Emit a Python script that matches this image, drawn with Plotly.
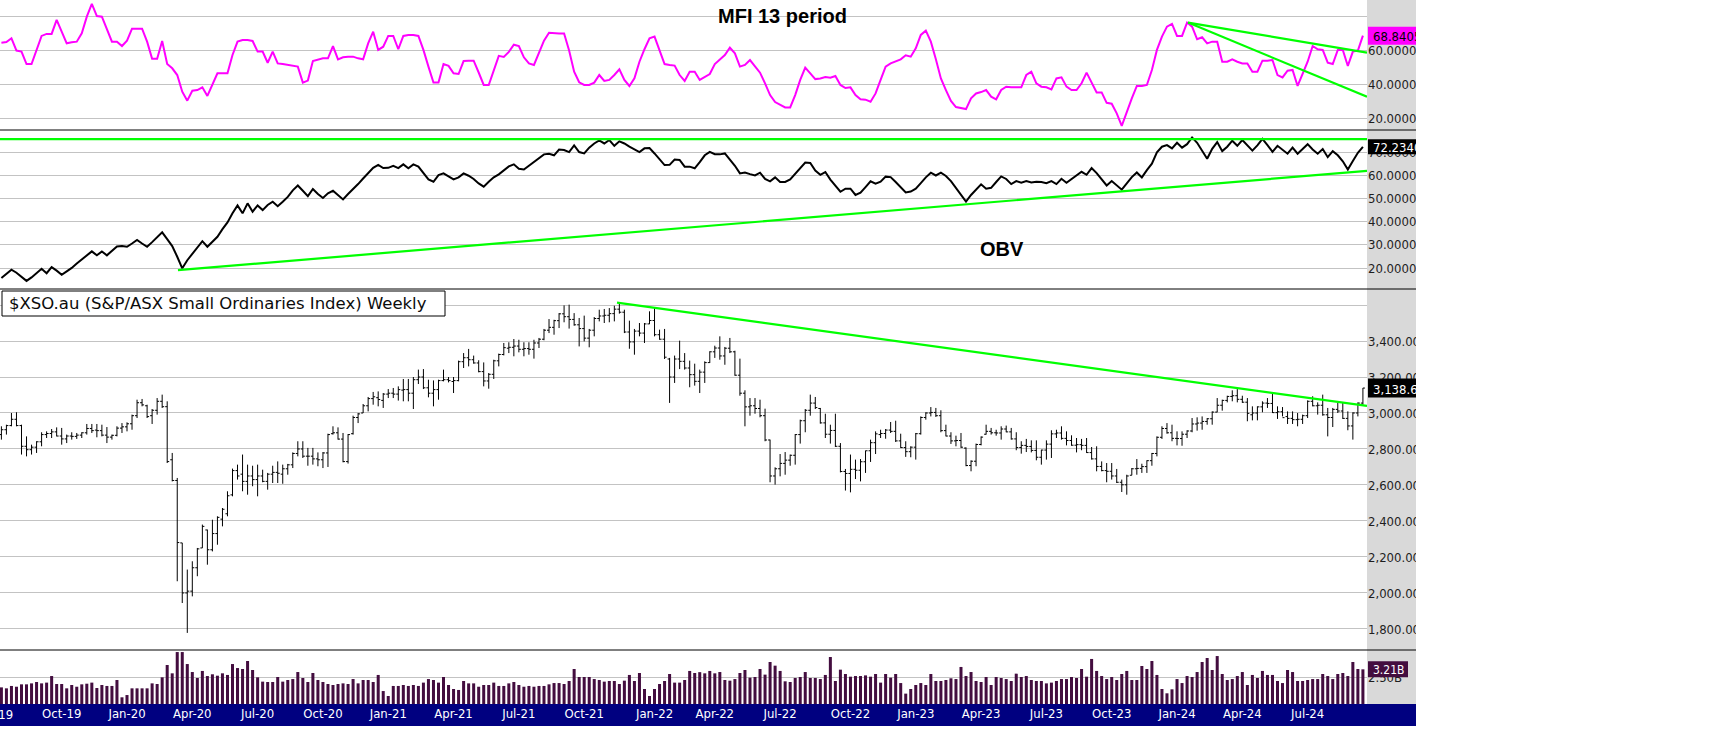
import pandas as pd
import plotly.graph_objects as go

# ---------------- data ----------------
DATES = pd.date_range("2019-07-12", periods=272, freq="W-FRI")

OPEN = [2880,2907,2930,2965,2930,2815,2796,2810,2840,2880,
        2886,2895,2872,2856,2872,2870,2877,2890,2914,2905,
        2902,2877,2866,2876,2916,2923,2940,2985,3057,3040,
        2985,3015,3065,3035,2740,2625,2278,2000,2010,2140,
        2250,2350,2240,2330,2410,2440,2545,2680,2660,2620,
        2650,2630,2650,2620,2660,2670,2660,2690,2712,2775,
        2800,2760,2760,2745,2740,2778,2885,2890,2855,2730,
        2885,2975,3000,3040,3080,3085,3070,3105,3110,3105,
        3127,3130,3110,3185,3200,3140,3110,3130,3180,3185,
        3175,3180,3285,3307,3296,3278,3230,3178,3215,3290,
        3325,3360,3365,3372,3354,3358,3354,3389,3410,3460,
        3476,3513,3551,3535,3520,3490,3469,3416,3460,3525,
        3539,3543,3552,3577,3560,3450,3395,3455,3444,3495,
        3514,3435,3410,3300,3200,3300,3287,3250,3213,3176,
        3227,3280,3340,3361,3317,3360,3340,3210,3110,3034,
        3040,3025,2985,2850,2650,2690,2720,2738,2765,2880,
        2957,3015,3055,3025,2945,2882,2903,2815,2675,2664,
        2687,2682,2729,2790,2835,2880,2886,2905,2898,2845,
        2808,2785,2810,2885,2975,3000,3003,2985,2902,2872,
        2845,2847,2805,2708,2732,2825,2882,2898,2890,2889,
        2911,2895,2856,2808,2820,2814,2792,2754,2794,2827,
        2884,2889,2859,2847,2821,2824,2820,2780,2745,2703,
        2680,2676,2650,2615,2601,2654,2690,2692,2702,2735,
        2775,2865,2914,2890,2859,2858,2882,2900,2939,2944,
        2953,2968,3005,3043,3070,3092,3096,3076,3060,2990,
        3000,3034,3055,3053,3002,3007,2980,2970,2963,2965,
        2985,3065,3040,3043,2990,2975,3020,3011,2970,2928,
        3000,3055]

HIGH = [2926,2935,3000,3004,2935,2870,2824,2843,2893,2898,
        2911,2920,2917,2880,2893,2889,2893,2939,2939,2939,
        2935,2922,2880,2926,2944,2948,2991,3074,3078,3046,
        3022,3083,3102,3065,2778,2639,2278,2130,2176,2250,
        2380,2352,2407,2426,2472,2565,2691,2713,2769,2713,
        2707,2713,2685,2667,2707,2731,2713,2717,2781,2843,
        2843,2806,2806,2781,2783,2885,2926,2920,2889,2883,
        2985,3000,3050,3089,3117,3120,3111,3133,3139,3148,
        3189,3189,3200,3241,3244,3185,3181,3185,3241,3200,
        3200,3291,3333,3356,3319,3293,3281,3222,3296,3330,
        3389,3393,3411,3407,3393,3393,3407,3417,3467,3522,
        3518,3555,3598,3602,3555,3528,3541,3467,3533,3574,
        3578,3583,3596,3610,3574,3513,3467,3500,3500,3565,
        3585,3463,3467,3306,3319,3402,3333,3291,3274,3241,
        3287,3343,3374,3426,3367,3417,3346,3302,3126,3083,
        3083,3074,3024,2852,2698,2772,2783,2769,2883,2963,
        3022,3102,3089,3028,2996,2935,2996,2833,2689,2769,
        2741,2744,2791,2852,2898,2907,2911,2950,2957,2885,
        2843,2815,2889,2981,3004,3033,3028,3015,2935,2893,
        2874,2889,2809,2737,2830,2870,2935,2917,2907,2926,
        2930,2917,2893,2843,2856,2848,2848,2796,2848,2904,
        2907,2926,2898,2876,2861,2856,2861,2811,2815,2731,
        2722,2722,2689,2630,2657,2694,2744,2718,2737,2778,
        2870,2926,2944,2935,2898,2898,2904,2972,2976,2981,
        2972,3009,3083,3074,3096,3126,3133,3096,3083,3037,
        3037,3065,3083,3107,3037,3033,3009,3009,3000,2991,
        3070,3093,3059,3102,3028,3028,3056,3056,3009,3004,
        3059,3139]

LOW = [2852,2880,2926,2926,2769,2759,2769,2778,2815,2861,
       2861,2870,2824,2833,2852,2856,2861,2880,2889,2865,
       2870,2833,2852,2870,2889,2898,2907,2972,3037,2972,
       2939,2991,3028,2722,2620,2065,1944,1778,1981,2093,
       2250,2157,2231,2268,2370,2426,2537,2630,2565,2546,
       2593,2537,2615,2574,2611,2611,2607,2657,2694,2759,
       2750,2707,2713,2704,2694,2700,2880,2852,2726,2719,
       2880,2944,3000,3009,3046,3037,3028,3083,3083,3069,
       3065,3065,3022,3161,3133,3087,3037,3074,3176,3170,
       3111,3176,3250,3259,3274,3226,3148,3135,3189,3259,
       3320,3333,3315,3337,3315,3324,3302,3361,3404,3444,
       3435,3472,3504,3469,3485,3370,3398,3365,3426,3509,
       3500,3504,3509,3552,3444,3357,3324,3426,3389,3494,
       3426,3407,3300,3056,3167,3244,3241,3143,3152,3111,
       3167,3278,3306,3296,3268,3333,3207,3096,2926,2985,
       2996,2976,2843,2615,2602,2648,2657,2707,2713,2830,
       2893,2985,3022,2941,2861,2830,2811,2670,2569,2559,
       2633,2620,2667,2728,2772,2861,2857,2889,2839,2806,
       2756,2754,2741,2880,2963,2981,2978,2893,2870,2828,
       2815,2806,2704,2676,2704,2820,2880,2880,2874,2852,
       2893,2852,2793,2774,2783,2781,2737,2713,2741,2750,
       2861,2852,2820,2818,2781,2793,2778,2741,2676,2676,
       2615,2630,2611,2561,2546,2654,2657,2667,2667,2707,
       2759,2856,2885,2843,2820,2818,2861,2893,2902,2907,
       2935,2935,3004,3013,3059,3065,3059,3056,2954,2959,
       2959,3004,3028,3000,2967,2981,2939,2939,2926,2939,
       2972,3037,2991,2985,2870,2922,3000,2967,2904,2852,
       2981,3046]

CLOSE = [2907,2930,2965,2930,2815,2796,2810,2840,2880,2886,
         2895,2872,2856,2872,2870,2877,2890,2914,2902,2902,
         2877,2866,2876,2916,2923,2940,2985,3057,3045,2980,
         3015,3065,3035,2730,2625,2280,2000,2010,2140,2245,
         2370,2240,2330,2420,2465,2540,2680,2650,2620,2650,
         2630,2650,2620,2660,2670,2665,2690,2712,2775,2800,
         2760,2760,2745,2740,2778,2880,2890,2855,2730,2880,
         2975,2995,3040,3080,3090,3075,3105,3110,3105,3130,
         3130,3110,3185,3200,3140,3110,3130,3180,3185,3180,
         3180,3285,3307,3296,3278,3230,3178,3215,3290,3325,
         3363,3365,3372,3354,3358,3354,3389,3410,3460,3476,
         3513,3551,3535,3520,3490,3469,3416,3460,3525,3539,
         3543,3552,3577,3560,3450,3395,3455,3444,3495,3514,
         3435,3410,3310,3200,3300,3287,3250,3213,3176,3227,
         3280,3340,3361,3317,3360,3340,3210,3110,3034,3040,
         3025,2985,2850,2650,2690,2720,2738,2765,2880,2957,
         3015,3055,3030,2945,2882,2903,2815,2675,2664,2687,
         2682,2729,2790,2835,2884,2886,2905,2898,2845,2808,
         2785,2810,2885,2975,3000,3003,2985,2902,2872,2845,
         2847,2810,2708,2732,2825,2866,2898,2890,2889,2911,
         2895,2856,2808,2820,2814,2792,2754,2794,2827,2884,
         2889,2859,2847,2821,2824,2820,2780,2745,2703,2680,
         2676,2650,2615,2601,2650,2690,2692,2702,2735,2775,
         2865,2914,2890,2859,2858,2882,2900,2939,2944,2953,
         2968,3005,3043,3070,3092,3096,3076,3060,2998,3000,
         3034,3055,3053,3002,3007,2974,2970,2963,2965,2985,
         3065,3040,3043,2990,2975,3020,3011,2970,2928,3000,
         3055,3138.6]

VOLUME_B = [1.54,1.45,1.67,1.60,1.82,1.82,1.91,2.04,1.91,1.98,
            2.59,1.85,1.85,1.45,1.76,1.60,1.82,1.88,1.98,1.48,
            1.76,1.67,1.67,2.22,0.62,0.83,1.45,1.45,1.45,1.45,
            1.91,1.85,2.47,3.61,2.84,4.81,4.81,3.70,2.96,2.41,
            3.06,2.59,2.75,2.62,2.84,2.69,3.70,3.33,3.24,3.98,
            3.15,2.47,2.07,2.04,2.04,2.50,2.07,2.22,2.31,2.96,
            2.41,2.04,2.87,2.22,2.04,1.85,1.76,1.85,1.91,1.85,
            2.31,1.91,2.22,2.22,2.04,2.69,1.20,0.74,1.67,1.67,
            1.76,1.67,1.76,1.67,1.98,2.31,2.22,1.98,2.50,1.76,
            1.39,1.30,2.13,1.91,1.91,1.60,1.76,1.76,1.98,1.67,
            1.67,1.91,2.04,1.76,1.60,1.67,1.60,1.67,1.67,1.82,
            1.94,1.94,1.85,2.13,3.24,2.50,2.50,2.50,2.31,2.22,
            2.07,2.13,2.13,1.85,2.16,2.69,2.13,2.87,1.39,0.74,
            1.39,1.85,2.13,2.78,1.98,1.98,2.22,3.06,2.87,2.95,
            2.84,3.06,2.84,2.96,2.22,2.16,2.31,2.87,3.15,2.44,
            2.50,3.24,2.72,3.89,3.55,3.06,2.10,2.04,2.41,2.50,
            2.96,2.41,2.41,2.31,2.69,4.35,2.13,3.18,2.78,2.53,
            2.59,2.59,2.65,2.53,2.78,1.98,2.78,2.44,2.78,1.94,
            0.96,1.39,1.76,1.94,1.76,2.78,2.13,2.13,2.22,2.38,
            2.31,3.43,2.59,2.96,2.13,2.04,2.50,1.76,2.50,2.41,
            2.31,2.13,2.81,2.50,2.59,2.22,2.13,2.13,1.91,1.98,
            2.13,2.31,2.31,2.50,2.41,3.24,2.53,4.17,3.06,2.59,
            2.31,2.50,2.22,2.78,3.06,2.22,2.22,3.52,3.24,3.98,
            2.69,1.39,0.99,1.36,2.31,1.94,2.59,2.50,2.96,3.89,
            4.26,3.15,4.44,2.78,2.22,2.31,2.59,2.96,1.76,2.69,
            2.41,3.06,2.69,2.69,2.13,1.94,3.15,2.96,2.13,2.13,
            2.22,2.31,2.31,2.78,2.59,2.31,2.78,2.87,2.59,3.89,
            3.24,3.21]

MFI = [64.7,65.1,67.3,60.0,59.4,52.0,52.0,60.8,68.7,69.9,
       69.9,78.2,71.2,64.3,64.9,65.3,70.2,80.1,87.7,80.5,
       80.1,72.6,65.3,65.3,62.7,65.9,73.0,73.0,73.0,65.3,
       55.2,55.2,65.7,52.0,49.5,45.5,35.6,30.3,36.2,36.6,
       38.2,33.1,39.6,46.5,46.5,46.5,57.4,65.3,66.3,66.3,
       65.7,59.4,59.4,52.8,59.4,52.4,52.0,51.5,50.9,50.5,
       41.0,42.2,53.8,54.8,55.4,55.4,62.7,54.8,56.0,56.4,
       56.4,55.4,54.8,64.3,71.2,60.4,62.3,68.7,68.7,60.8,
       68.7,69.3,69.3,68.7,60.4,50.5,41.0,41.0,52.0,50.9,
       46.5,46.1,53.8,54.0,54.0,47.0,39.6,39.6,48.5,56.9,
       56.2,59.2,63.5,62.7,56.0,52.4,51.5,58.4,65.9,70.6,
       70.2,70.2,70.2,60.0,47.5,41.2,39.6,39.6,41.0,45.5,
       42.0,42.6,45.5,48.9,42.6,39.0,43.5,53.4,60.8,67.3,
       68.3,60.4,52.0,51.5,51.1,45.5,42.0,47.5,47.5,42.6,
       44.1,46.1,52.0,55.0,57.4,61.7,58.4,50.5,51.5,54.4,
       50.5,46.9,40.6,33.6,29.5,27.7,26.3,26.3,33.6,42.6,
       49.9,46.5,43.1,43.5,44.3,43.9,44.9,39.6,37.8,38.2,
       33.6,31.1,30.9,29.7,34.6,42.6,50.5,52.4,53.8,54.8,
       57.2,56.4,61.3,69.3,71.8,65.3,54.8,43.5,36.6,30.1,
       26.5,26.1,25.3,31.7,34.6,35.4,36.6,32.7,31.1,36.6,
       38.6,38.2,38.2,38.2,45.5,47.5,40.6,38.6,38.2,37.0,
       43.5,44.1,38.6,36.6,36.6,40.6,46.9,40.6,35.2,35.2,
       29.0,28.5,22.8,15.3,23.8,31.7,39.0,39.0,39.6,48.5,
       60.4,68.3,74.2,75.8,68.7,68.7,76.6,74.2,66.7,67.9,
       64.3,65.3,65.3,53.4,53.4,54.8,53.4,52.4,52.4,47.5,
       47.5,54.0,54.0,54.4,45.5,44.1,48.1,48.5,39.0,46.5,
       53.4,62.7,60.8,60.4,52.8,52.0,60.4,60.4,50.9,59.4,
       60.0,68.8405]

OBV = [15.7,17.4,19.3,18.0,16.3,14.5,16.0,18.0,19.7,17.8,
       20.4,18.9,17.1,18.6,20.1,22.0,23.7,25.5,27.2,25.5,
       27.2,25.5,27.5,29.3,29.5,29.2,30.6,32.1,30.6,29.2,
       31.2,33.4,35.4,32.5,29.5,24.9,19.9,23.4,26.3,29.2,
       31.6,29.2,31.4,33.5,36.8,39.7,43.6,47.0,43.6,47.9,
       44.3,47.0,45.0,47.2,48.6,46.7,48.6,50.7,53.5,55.6,
       53.3,51.0,54.1,51.9,50.2,52.2,53.3,51.3,49.6,51.9,
       53.9,56.2,58.6,60.8,63.2,64.5,63.1,63.2,64.1,63.1,
       64.7,63.0,64.7,63.7,61.1,58.2,57.2,60.1,60.8,59.4,
       58.2,59.1,60.8,59.8,58.4,56.5,55.1,57.2,59.1,60.4,
       62.1,63.8,64.7,62.8,62.5,64.1,65.5,67.3,69.0,69.3,
       68.6,71.1,70.9,70.0,72.9,70.0,69.4,71.9,73.7,75.0,
       73.7,75.2,72.7,74.6,73.7,72.3,71.1,70.0,71.6,71.7,
       69.4,66.8,64.4,64.5,66.8,66.6,63.7,63.7,63.0,65.7,
       68.6,70.1,69.1,69.0,69.4,66.7,64.1,60.8,61.2,60.5,
       59.9,61.1,58.4,57.4,59.1,57.1,57.1,58.2,60.7,63.1,
       65.5,65.3,62.0,60.2,61.4,58.1,55.6,52.9,54.2,54.2,
       51.5,52.5,54.9,57.4,56.4,57.2,59.4,59.2,57.1,54.9,
       52.6,53.0,54.2,56.6,59.1,61.1,59.9,61.1,59.7,57.5,
       54.6,51.6,48.7,51.5,53.9,56.1,54.2,54.6,57.1,59.5,
       58.4,56.2,57.5,56.8,57.5,56.9,57.2,57.1,56.6,57.5,
       56.2,58.5,56.8,58.4,59.9,61.5,60.2,63.1,60.9,58.1,
       55.6,57.5,55.5,53.8,56.5,59.2,61.2,59.1,62.2,65.0,
       69.9,72.3,73.0,71.6,74.0,71.9,73.4,76.3,74.0,70.4,
       67.1,71.4,74.3,70.4,72.3,74.9,72.7,75.2,73.0,70.6,
       72.9,75.7,73.0,70.1,72.7,71.1,69.3,71.9,69.3,71.3,
       73.4,71.1,69.3,71.3,67.8,70.4,68.6,66.0,62.5,66.1,
       69.7,72.234]

# trend lines (date, value pairs)
X_RANGE = ["2019-07-10 01:12", "2024-09-25 16:48"]
TREND_PRICE_DATES = ["2021-11-15 17:00", "2024-09-25 16:48"]
TREND_PRICE_VALUES = [3613, 3039]
TREND_MFI_DATES = ["2024-01-20 07:00", "2024-09-25 16:48"]
TREND_MFI_A = [76.6, 58.8]
TREND_MFI_B = [76.6, 32.6]
TREND_OBV_FLAT_DATES = ["2019-07-10 01:12", "2024-09-25 16:48"]
TREND_OBV_FLAT = [75.6, 75.6]
TREND_OBV_RISE_DATES = ["2020-03-14", "2024-09-25 16:48"]
TREND_OBV_RISE = [19.1, 61.9]

MFI_TICKS = [20, 40, 60, 80]
MFI_TICK_TEXT = ["20.0000", "40.0000", "60.0000", ""]
OBV_TICKS = [20, 30, 40, 50, 60, 70]
OBV_TICK_TEXT = ["20.0000", "30.0000", "40.0000", "50.0000", "60.0000", "70.0000"]
PRICE_TICKS = [1800, 2000, 2200, 2400, 2600, 2800, 3000, 3200, 3400, 3600]
PRICE_TICK_TEXT = ["1,800.00", "2,000.00", "2,200.00", "2,400.00", "2,600.00",
                   "2,800.00", "3,000.00", "3,200.00", "3,400.00", ""]
VOL_TICKS = [2.5]
VOL_TICK_TEXT = ["2.50B"]

TITLE_PRICE = "$XSO.au (S&P/ASX Small Ordinaries Index) Weekly"
TITLE_MFI = "MFI 13 period"
TITLE_OBV = "OBV"
FIRST_LABEL_DATE = "2019-07-05"   # partially visible quarter label at left edge

QUARTER_TICKS = [d for d in DATES if d.month in (1, 4, 7, 10) and d.day <= 7]
QUARTER_TEXT = [d.strftime("%b-%y") for d in QUARTER_TICKS]

# ---------------- layout geometry ----------------
W, H = 1735, 753
PW, PH = 1367, 704          # plot area in px
STRIP_R = 1416              # right edge of axis strip


def px_x(x):
    return x / PW


def px_y(y):
    return (PH - y) / PH


MFI_RANGE = [12.9, 90]
OBV_RANGE = [11, 79.5]
PRICE_RANGE = [1683, 3689]
VOL_RANGE = [0, 5]
DOM_VOL = [0, px_y(650)]
DOM_PRICE = [px_y(650), px_y(289)]
DOM_OBV = [px_y(289), px_y(130)]
DOM_MFI = [px_y(130), 1]

LBL_FAMILY = "DejaVu Sans Condensed, Liberation Sans, sans-serif"
TICK_FONT = dict(family=LBL_FAMILY, size=13, color="#1e1e1e")
GRID = "#c3c3c3"
MAGENTA = "#ff00ff"
GREEN = "#00ff00"
VOL_COLOR = "#430d3f"

fig = go.Figure()

fig.add_trace(go.Bar(x=DATES, y=VOLUME_B, xaxis="x", yaxis="y",
                     marker=dict(color=VOL_COLOR, line=dict(width=0)),
                     width=4.2 * 86400000, hoverinfo="skip", showlegend=False))
fig.add_trace(go.Ohlc(x=DATES, open=OPEN, high=HIGH, low=LOW, close=CLOSE,
                      xaxis="x", yaxis="y2", tickwidth=0.4,
                      increasing=dict(line=dict(color="black", width=1)),
                      decreasing=dict(line=dict(color="black", width=1)),
                      hoverinfo="skip", showlegend=False))
fig.add_trace(go.Scatter(x=TREND_PRICE_DATES, y=TREND_PRICE_VALUES, xaxis="x", yaxis="y2",
                         mode="lines", line=dict(color=GREEN, width=2.2),
                         hoverinfo="skip", showlegend=False))
fig.add_trace(go.Scatter(x=DATES, y=OBV, xaxis="x", yaxis="y3", mode="lines",
                         line=dict(color="black", width=2), hoverinfo="skip", showlegend=False))
for dts, vals in [(TREND_OBV_FLAT_DATES, TREND_OBV_FLAT), (TREND_OBV_RISE_DATES, TREND_OBV_RISE)]:
    fig.add_trace(go.Scatter(x=dts, y=vals, xaxis="x", yaxis="y3", mode="lines",
                             line=dict(color=GREEN, width=2.2), hoverinfo="skip", showlegend=False))
fig.add_trace(go.Scatter(x=DATES, y=MFI, xaxis="x", yaxis="y4", mode="lines",
                         line=dict(color=MAGENTA, width=2), hoverinfo="skip", showlegend=False))
for vals in (TREND_MFI_A, TREND_MFI_B):
    fig.add_trace(go.Scatter(x=TREND_MFI_DATES, y=vals, xaxis="x", yaxis="y4", mode="lines",
                             line=dict(color=GREEN, width=2.2), hoverinfo="skip", showlegend=False))


def yax(dom, rng, tv, tt):
    return dict(domain=dom, range=rng, anchor="x", side="right", tickvals=tv, ticktext=tt,
                showgrid=True, gridcolor=GRID, gridwidth=1, zeroline=False, showline=False,
                ticks="", tickfont=TICK_FONT, automargin=False, fixedrange=True)


def value_box(yref, value, half_px, rng, dom, fill, text, color, x1px=STRIP_R, size=13):
    upp = (rng[1] - rng[0]) / ((dom[1] - dom[0]) * PH)
    return dict(type="rect", xref="paper", yref=yref, x0=px_x(PW + 1), x1=px_x(x1px),
                y0=value - half_px * upp, y1=value + half_px * upp,
                fillcolor=fill, line=dict(width=0), layer="above",
                label=dict(text=text, textposition="middle left", padding=2,
                           font=dict(family=LBL_FAMILY, size=size, color=color)))


shapes = [
    dict(type="rect", xref="paper", yref="paper", x0=1, x1=px_x(STRIP_R), y0=0, y1=1,
         fillcolor="#d9d9d9", line=dict(width=0), layer="below"),
    dict(type="rect", xref="paper", yref="paper", x0=0, x1=px_x(STRIP_R),
         y0=px_y(726), y1=0, fillcolor="#000080", line=dict(width=0), layer="below"),
    dict(type="rect", xref="paper", yref="paper", x0=px_x(2), x1=px_x(445),
         y0=px_y(316), y1=px_y(291), fillcolor="white", line=dict(color="black", width=1),
         layer="above"),
]
for yy in (130, 289, 650):
    shapes.append(dict(type="line", xref="paper", yref="paper", x0=0, x1=px_x(STRIP_R),
                       y0=px_y(yy), y1=px_y(yy), line=dict(color="black", width=1), layer="above"))

shapes.append(value_box("y4", MFI[-1], 9, MFI_RANGE, DOM_MFI, MAGENTA, f"{MFI[-1]:.4f}", "black"))
shapes.append(value_box("y3", OBV[-1], 7.5, OBV_RANGE, DOM_OBV, "black", f"{OBV[-1]:.4f}", "white"))
shapes.append(value_box("y2", CLOSE[-1], 9.5, PRICE_RANGE, DOM_PRICE, "black",
                        f"{CLOSE[-1]:,.2f}", "white"))
shapes.append(value_box("y", VOLUME_B[-1], 8, VOL_RANGE, DOM_VOL, VOL_COLOR,
                        f"{VOLUME_B[-1]:.2f}B", "white", x1px=1408, size=12))
# clip everything past the axis strip
shapes.append(dict(type="rect", xref="paper", yref="paper", x0=px_x(STRIP_R), x1=px_x(W + 10),
                   y0=px_y(H + 10), y1=1.02, fillcolor="white", line=dict(width=0), layer="above"))

t0 = pd.Timestamp(X_RANGE[0])
t1 = pd.Timestamp(X_RANGE[1])
first_lbl_x = (pd.Timestamp(FIRST_LABEL_DATE) - t0) / (t1 - t0)

annotations = [
    dict(text=f"<b>{TITLE_MFI}</b>", xref="paper", yref="paper", x=px_x(782), y=px_y(16),
         xanchor="center", yanchor="middle", showarrow=False,
         font=dict(family="Liberation Sans", size=20, color="black")),
    dict(text=f"<b>{TITLE_OBV}</b>", xref="paper", yref="paper", x=px_x(1002), y=px_y(249.5),
         xanchor="center", yanchor="middle", showarrow=False,
         font=dict(family="Liberation Sans", size=20, color="black")),
    dict(text=TITLE_PRICE, xref="paper", yref="paper", x=px_x(7), y=px_y(303.5),
         xanchor="left", yanchor="middle", showarrow=False,
         font=dict(family="DejaVu Sans", size=16.5, color="#0c0c0c")),
    dict(text=pd.Timestamp(FIRST_LABEL_DATE).strftime("%b-%y"), xref="paper", yref="paper",
         x=first_lbl_x, y=px_y(714), xanchor="center", yanchor="middle", showarrow=False,
         font=dict(family=LBL_FAMILY, size=13, color="white")),
]

fig.update_layout(
    width=W, height=H,
    margin=dict(l=0, r=W - PW, t=0, b=H - PH, pad=0),
    paper_bgcolor="white", plot_bgcolor="white",
    showlegend=False, hovermode=False,
    xaxis=dict(domain=[0, 1], anchor="y", type="date", range=X_RANGE,
               showgrid=False, zeroline=False, showline=False, ticks="",
               tickvals=QUARTER_TICKS, ticktext=QUARTER_TEXT,
               tickfont=dict(family=LBL_FAMILY, size=13, color="white"),
               rangeslider=dict(visible=False), automargin=False, fixedrange=True),
    yaxis=yax(DOM_VOL, VOL_RANGE, VOL_TICKS, VOL_TICK_TEXT),
    yaxis2=yax(DOM_PRICE, PRICE_RANGE, PRICE_TICKS, PRICE_TICK_TEXT),
    yaxis3=yax(DOM_OBV, OBV_RANGE, OBV_TICKS, OBV_TICK_TEXT),
    yaxis4=yax(DOM_MFI, MFI_RANGE, MFI_TICKS, MFI_TICK_TEXT),
    shapes=shapes,
    annotations=annotations,
)

fig.write_html("out.html", config={"displayModeBar": False},
               post_script="document.body.style.margin='0';document.body.style.overflow='hidden';")
